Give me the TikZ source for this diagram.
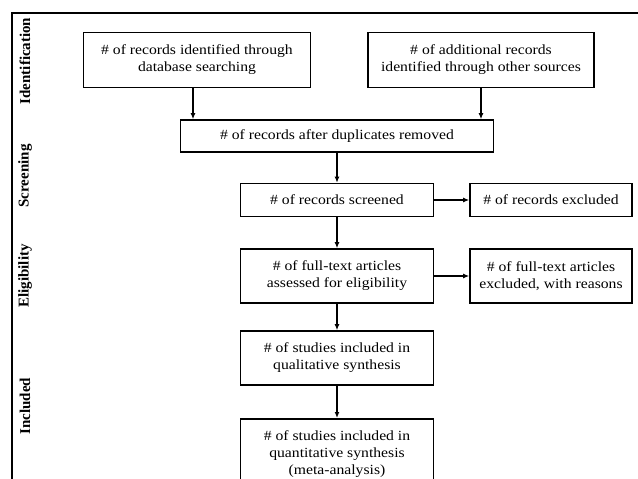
\documentclass[tikz,border=0pt]{standalone}
\usepackage{fontspec}
\setmainfont{Liberation Serif}
\newfontfamily\stretchfont{Liberation Serif}[FakeStretch=1.12]
\usetikzlibrary{arrows.meta}
\tikzset{
    prismabox/.style={draw, line width=1.6pt, align=center, inner sep=2pt,
        font=\stretchfont\fontsize{14}{17}\selectfont},
    phase/.style={rotate=90, font=\bfseries\fontsize{15}{17}\selectfont},
    flow/.style={-{Latex[length=6pt,width=5pt]}, line width=1.5pt}
}
\begin{document}
\begin{tikzpicture}[x=1pt,y=-1pt]
                \useasboundingbox (0,0) rectangle (638,479);
                \draw [line width=1.6pt] (638,13) -- (12,13) -- (12,479);
                \node [phase] (ident) at (25,61) {Identification};
                \node [phase] (screen) at (25,176) {Screening};
                \node [phase] (elig) at (25,276) {Eligibility};
                \node [phase] (incl) at (25,406) {Included};
                \node [prismabox, minimum width=227pt, minimum height=55pt] (dbsearch) at (197,60) {\# of records identified through\\database searching};
                \node [prismabox, minimum width=226pt, minimum height=55pt] (othersrc) at (481,60) {\# of additional records\\identified through other sources};
                \node [prismabox, minimum width=313pt, minimum height=32pt] (dedup) at (337,136) {\# of records after duplicates removed};
                \node [prismabox, minimum width=193pt, minimum height=33pt] (screened) at (337,200) {\# of records screened};
                \node [prismabox, minimum width=162pt, minimum height=33pt] (excluded) at (551,200) {\# of records excluded};
                \node [prismabox, minimum width=193pt, minimum height=54pt] (fulltext) at (337,276) {\# of full-text articles\\assessed for eligibility};
                \node [prismabox, minimum width=162pt, minimum height=54pt] (ftexcl) at (551,276) {\# of full-text articles\\excluded, with reasons};
                \node [prismabox, minimum width=193pt, minimum height=54pt] (qual) at (337,358) {\# of studies included in\\qualitative synthesis};
                \node [prismabox, minimum width=193pt, minimum height=71pt, anchor=north] (quant) at (337,418) {\# of studies included in\\quantitative synthesis\\(meta-analysis)};
                \draw [flow] ([xshift=-4pt]dbsearch.south) -- ([xshift=-4pt]dbsearch.south |- dedup.north);
                \draw [flow] (othersrc.south) -- (othersrc.south |- dedup.north);
                \draw [flow] (dedup) -- (screened);
                \draw [flow] (screened) -- (excluded);
                \draw [flow] (screened) -- (fulltext);
                \draw [flow] (fulltext) -- (ftexcl);
                \draw [flow] (fulltext) -- (qual);
                \draw [flow] (qual) -- (quant);
            \end{tikzpicture}
\end{document}
